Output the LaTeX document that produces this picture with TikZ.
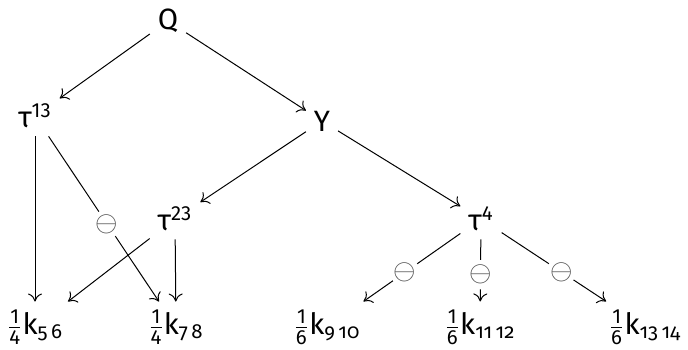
\documentclass[tikz,border=0pt]{standalone}
\usepackage{amsmath}
\usepackage{fontspec}
\setmainfont{Fira Sans}[Scale=1.02]
\usetikzlibrary{positioning,arrows.meta}
\newcommand{\tx}[1]{\text{#1}}
\newcommand{\oldnum}[1]{\text{\addfontfeatures{Numbers=OldStyle}#1}}
\newcommand{\leaf}[3]{$\frac{\tx{1}}{\tx{#1}}\tx{k}_{\oldnum{#2\,#3}}$}

\begin{document}
\begin{tikzpicture}[x=0.5pt,y=-0.5pt,
    every node/.style={font=\Large,inner sep=2pt,outer sep=2pt},
    arr/.style={-{To[length=4pt,width=7pt]},line width=0.5pt},
    neg/.style={circle,fill=white,text=black!70,inner sep=0pt,outer sep=0pt,font=\Large}]
    \useasboundingbox (0,0) rectangle (688,349);
    % top part of the tree
    \node (q) at (168,21) {Q};
    \node (tau13) at (35,116) {$\tx{τ}^{\tx{13}}$};
    \node (y) at (322,121) {Y};
    \node (tau23) at (175,219) {$\tx{τ}^{\tx{23}}$};
    \node (tau4) at (481,219) {$\tx{τ}^{\tx{4}}$};
    % leaves
    \node (k56) at (35,327) {\leaf{4}{5}{6}};
    \node (k78) at (176,327) {\leaf{4}{7}{8}};
    \node (k910) at (327,327) {\leaf{6}{9}{10}};
    \node (k1112) at (480,327) {\leaf{6}{11}{12}};
    \node (k1314) at (645,327) {\leaf{6}{13}{14}};

    \draw[arr] (q) -- (tau13);
    \draw[arr] (q) -- (y);
    \draw[arr] (y) -- (tau23);
    \draw[arr] (y) -- (tau4);
    \draw[arr] (tau13) -- (k56);
    \draw[arr] (tau13) -- node[neg,pos=0.53] (m78) {$\ominus$} (k78);
    \draw[arr] (tau23) -- (k56);
    \draw[arr] (tau23) -- (k78);
    \draw[arr] (tau4) -- node[neg,pos=0.57] (m910) {$\ominus$} (k910);
    \draw[arr] (tau4) -- node[neg,pos=0.57] (m1112) {$\ominus$} (k1112);
    \draw[arr] (tau4) -- node[neg,pos=0.57] (m1314) {$\ominus$} (k1314);
\end{tikzpicture}
\end{document}
